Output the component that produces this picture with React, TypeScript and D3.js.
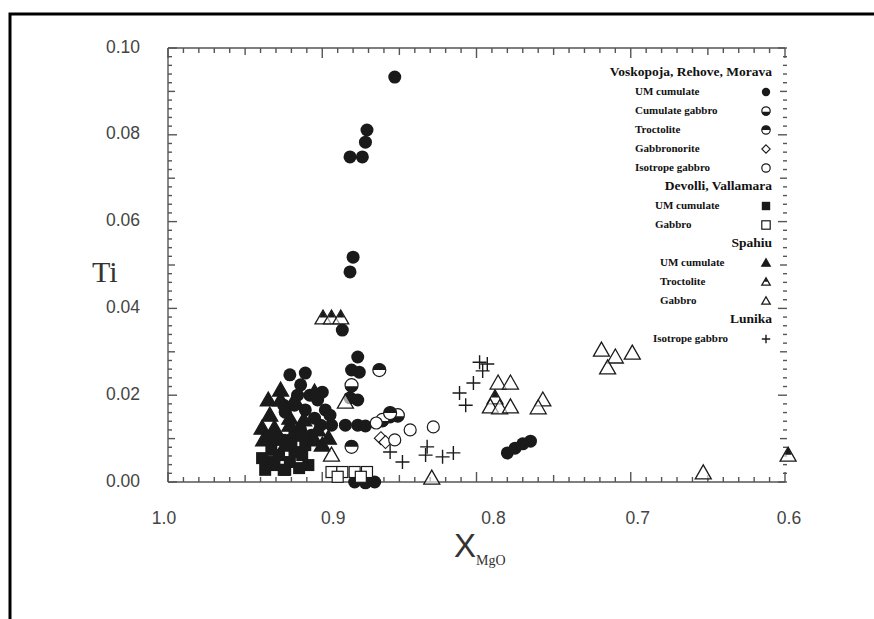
import React from 'react';
import * as d3 from 'd3';

// X_MgO vs Ti
const xTicks = [1.0, 0.9, 0.8, 0.7, 0.6];
// the scanned labels sit a little off their ticks
const xTickShift = [-4, 11, 17, 7, 4];
const yTicks = [0.0, 0.02, 0.04, 0.06, 0.08, 0.1];

// Voskopoja, Rehove, Morava
const vUmCumulate = [
  [0.853, 0.0933], [0.871, 0.0811], [0.872, 0.0783], [0.882, 0.0749], [0.874, 0.0749],
  [0.880, 0.0518], [0.882, 0.0484], [0.887, 0.0350], [0.877, 0.0288], [0.881, 0.0258],
  [0.876, 0.0253], [0.911, 0.0251], [0.914, 0.0224], [0.908, 0.0200], [0.903, 0.0189],
  [0.918, 0.0177], [0.924, 0.0161], [0.911, 0.0166], [0.898, 0.0166], [0.905, 0.0147],
  [0.901, 0.0131], [0.894, 0.0131], [0.885, 0.0131], [0.877, 0.0131], [0.872, 0.0129],
  [0.882, 0.0194], [0.877, 0.0189], [0.856, 0.0150], [0.879, 0.0000], [0.872, -0.0002],
  [0.866, 0.0000], [0.780, 0.0067], [0.775, 0.0078], [0.770, 0.0088], [0.765, 0.0094],
  [0.921, 0.0247], [0.916, 0.0200], [0.925, 0.0177], [0.900, 0.0207], [0.895, 0.0154],
  [0.914, 0.0120], [0.907, 0.0108], [0.921, 0.0097],
];
const vCumGabbro = [[0.881, 0.0223], [0.861, 0.0143], [0.851, 0.0154]];
const vTroctolite = [[0.863, 0.0258], [0.881, 0.0081], [0.856, 0.0159]];
const vGabbronorite = [[0.862, 0.0101], [0.859, 0.0092]];
const vIsotrope = [[0.865, 0.0136], [0.843, 0.0120], [0.828, 0.0127], [0.853, 0.0097]];

// Devolli, Vallamara
const dUmCumulate = [
  [0.935, 0.0046], [0.931, 0.0039], [0.928, 0.0062], [0.933, 0.0074], [0.924, 0.0028],
  [0.921, 0.0046], [0.915, 0.0032], [0.927, 0.0097], [0.920, 0.0085], [0.913, 0.0062],
  [0.909, 0.0039], [0.937, 0.0028], [0.918, 0.0110], [0.939, 0.0055], [0.918, 0.0069],
  [0.911, 0.0085], [0.925, 0.0028], [0.934, 0.0097],
];
const dGabbro = [
  [0.894, 0.0023], [0.887, 0.0023], [0.879, 0.0023], [0.871, 0.0023], [0.890, 0.0012], [0.875, 0.0012],
];

// Spahiu
const sUmCumulate = [
  [0.927, 0.0189], [0.934, 0.0154], [0.931, 0.0124], [0.921, 0.0131], [0.914, 0.0108],
  [0.924, 0.0085], [0.905, 0.0097], [0.900, 0.0085], [0.896, 0.0101], [0.938, 0.0097],
  [0.918, 0.0189], [0.912, 0.0143], [0.905, 0.0207], [0.935, 0.0189], [0.927, 0.0212],
  [0.903, 0.0120], [0.939, 0.0124], [0.921, 0.0147],
];
const sTroctolite = [[0.8995, 0.0378], [0.894, 0.0378], [0.888, 0.0378], [0.788, 0.0194], [0.598, 0.0062]];
const sGabbro = [
  [0.885, 0.0184], [0.894, 0.0062], [0.829, 0.0009], [0.653, 0.0021], [0.786, 0.0228],
  [0.778, 0.0228], [0.791, 0.0173], [0.785, 0.0171], [0.778, 0.0173], [0.757, 0.0189],
  [0.760, 0.0171], [0.719, 0.0304], [0.710, 0.0288], [0.699, 0.0297], [0.715, 0.0263],
];

// Lunika
const lIsotrope = [
  [0.798, 0.0276], [0.793, 0.0272], [0.796, 0.0256], [0.802, 0.0228], [0.811, 0.0205],
  [0.807, 0.0177], [0.856, 0.0069], [0.848, 0.0046], [0.832, 0.0081], [0.833, 0.0062],
  [0.822, 0.0058], [0.815, 0.0067],
];

const legendGroups = [
  { title: 'Voskopoja, Rehove, Morava', left: 635, items: [
    ['UM cumulate', 'circleFill', vUmCumulate],
    ['Cumulate gabbro', 'circleBottom', vCumGabbro],
    ['Troctolite', 'circleTop', vTroctolite],
    ['Gabbronorite', 'diamond', vGabbronorite],
    ['Isotrope gabbro', 'circleOpen', vIsotrope],
  ] },
  { title: 'Devolli, Vallamara', left: 655, items: [
    ['UM cumulate', 'squareFill', dUmCumulate],
    ['Gabbro', 'squareOpen', dGabbro],
  ] },
  { title: 'Spahiu', left: 660, items: [
    ['UM cumulate', 'triFill', sUmCumulate],
    ['Troctolite', 'triHalf', sTroctolite],
    ['Gabbro', 'triOpen', sGabbro],
  ] },
  { title: 'Lunika', left: 653, items: [
    ['Isotrope gabbro', 'plus', lIsotrope],
  ] },
];

const x = d3.scaleLinear().domain([1.0, 0.6]).range([168, 785]);
const y = d3.scaleLinear().domain([0, 0.1]).range([482, 48]);

const ink = '#1a1a1a';

function Marker({ kind, cx, cy, s }) {
  const r = s;
  switch (kind) {
    case 'circleFill':
      return <circle cx={cx} cy={cy} r={r} fill={ink} />;
    case 'circleOpen':
      return <circle cx={cx} cy={cy} r={r} fill="white" stroke={ink} strokeWidth={1.2} />;
    case 'circleTop':
      return <g>
        <circle cx={cx} cy={cy} r={r} fill="white" stroke={ink} strokeWidth={1.2} />
        <path d={`M${cx - r},${cy} A${r},${r} 0 0 1 ${cx + r},${cy} Z`} fill={ink} />
      </g>;
    case 'circleBottom':
      return <g>
        <circle cx={cx} cy={cy} r={r} fill="white" stroke={ink} strokeWidth={1.2} />
        <path d={`M${cx - r},${cy + r * 0.15} A${r},${r} 0 0 0 ${cx + r},${cy + r * 0.15} Z`} fill={ink} />
      </g>;
    case 'diamond':
      return <path d={`M${cx},${cy - r} L${cx + r},${cy} L${cx},${cy + r} L${cx - r},${cy} Z`} fill="white" stroke={ink} strokeWidth={1.1} />;
    case 'squareFill':
      return <rect x={cx - r} y={cy - r} width={2 * r} height={2 * r} fill={ink} />;
    case 'squareOpen':
      return <rect x={cx - r} y={cy - r} width={2 * r} height={2 * r} fill="white" stroke={ink} strokeWidth={1.2} />;
    case 'triFill':
    case 'triOpen':
    case 'triHalf': {
      const p = `M${cx},${cy - r} L${cx + r},${cy + r * 0.75} L${cx - r},${cy + r * 0.75} Z`;
      const top = `M${cx},${cy - r} L${cx + r * 0.45},${cy - r * 0.05} L${cx - r * 0.45},${cy - r * 0.05} Z`;
      return <g>
        <path d={p} fill={kind === 'triFill' ? ink : 'white'} fillOpacity={kind === 'triFill' ? 1 : 0.6} stroke={ink} strokeWidth={1.3} />
        {kind === 'triHalf' && <path d={top} fill={ink} />}
      </g>;
    }
    case 'plus':
      return <path d={`M${cx - r},${cy} H${cx + r} M${cx},${cy - r} V${cy + r}`} stroke={ink} strokeWidth={1.4} />;
    default:
      return null;
  }
}

const dataSize = {
  circleFill: 6.5, circleOpen: 6, circleTop: 6.5, circleBottom: 6.5, diamond: 6.5,
  squareFill: 6, squareOpen: 5.5, triFill: 8, triOpen: 8, triHalf: 8, plus: 7,
};

export default function App() {
  const xMinor = d3.range(0, 41).map((i) => 1.0 - i * 0.01);
  const yMinor = d3.range(0, 51).map((i) => i * 0.002);
  const rowStep = 19;
  let row = 0;
  const legendRows = [];
  legendGroups.forEach((g) => {
    legendRows.push({ type: 'title', text: g.title, y: 73 + row * rowStep });
    row++;
    g.items.forEach((it) => {
      legendRows.push({ type: 'item', text: it[0], kind: it[1], left: g.left, y: 73 + row * rowStep });
      row++;
    });
  });

  return (
    <svg width={874} height={619} style={{ display: 'block', position: 'absolute', left: 0, top: 0, background: 'white' }}>
      <rect x={0} y={0} width={874} height={619} fill="white" />
      {/* outer frame */}
      <path d="M10,619 L10,14 L874,14" fill="none" stroke="#000" strokeWidth={3} />

      {/* axes */}
      <g stroke="#555" strokeWidth={1.4} fill="none">
        <line x1={x(1.0)} x2={x(1.0)} y1={y(0.1)} y2={y(0)} />
        <line x1={x(1.0)} x2={x(0.6)} y1={y(0)} y2={y(0)} />
        <line x1={x(1.0)} x2={x(0.6)} y1={y(0.1)} y2={y(0.1)} />
        {xMinor.map((v, i) => {
          const len = i % 10 === 0 ? 10 : i % 5 === 0 ? 7 : 5;
          return <g key={'xt' + i}>
            <line x1={x(v)} x2={x(v)} y1={y(0)} y2={y(0) - len} />
            <line x1={x(v)} x2={x(v)} y1={y(0.1)} y2={y(0.1) + len} />
          </g>;
        })}
        {yMinor.map((v, i) => {
          const len = i % 10 === 0 ? 9 : i % 5 === 0 ? 7 : 4;
          return <g key={'yt' + i}>
            <line x1={x(1.0)} x2={x(1.0) + len} y1={y(v)} y2={y(v)} />
            <line x1={x(0.6) - len + 2} x2={x(0.6) + 2} y1={y(v)} y2={y(v)} />
          </g>;
        })}
      </g>

      {/* tick labels */}
      <g fontFamily="'Liberation Sans', Arial, sans-serif" fontSize={17.5} fill="#444">
        {yTicks.map((v) => (
          <text key={'yl' + v} x={140} y={y(v)} textAnchor="end" dominantBaseline="middle">{v.toFixed(2)}</text>
        ))}
        {xTicks.map((v, i) => (
          <text key={'xl' + v} x={x(v) + xTickShift[i]} y={524} textAnchor="middle">{v.toFixed(1)}</text>
        ))}
      </g>

      {/* axis titles */}
      <text x={92} y={282} fontFamily="'Liberation Serif', serif" fontSize={30} fill="#333">Ti</text>
      <text x={454} y={557} fontFamily="'Liberation Sans', Arial, sans-serif" fontSize={33} fill="#333">
        X<tspan fontFamily="'Liberation Serif', serif" fontSize={14} dy={8}>MgO</tspan>
      </text>

      {/* data */}
      {legendGroups.map((g) => g.items.map((it) => (
        <g key={g.title + it[0]}>
          {it[2].map((d, i) => (
            <Marker key={i} kind={it[1]} cx={x(d[0])} cy={y(d[1])} s={dataSize[it[1]]} />
          ))}
        </g>
      )))}

      {/* legend */}
      <g fontFamily="'Liberation Serif', 'Times New Roman', serif" fontWeight="bold" fill="#111">
        {legendRows.map((r, i) => r.type === 'title'
          ? <text key={i} x={772} y={r.y} fontSize={13.5} textAnchor="end" dominantBaseline="middle">{r.text}</text>
          : <g key={i}>
            <text x={r.left} y={r.y} fontSize={11} dominantBaseline="middle">{r.text}</text>
            <Marker kind={r.kind} cx={766} cy={r.y} s={4.2} />
          </g>)}
      </g>
    </svg>
  );
}
